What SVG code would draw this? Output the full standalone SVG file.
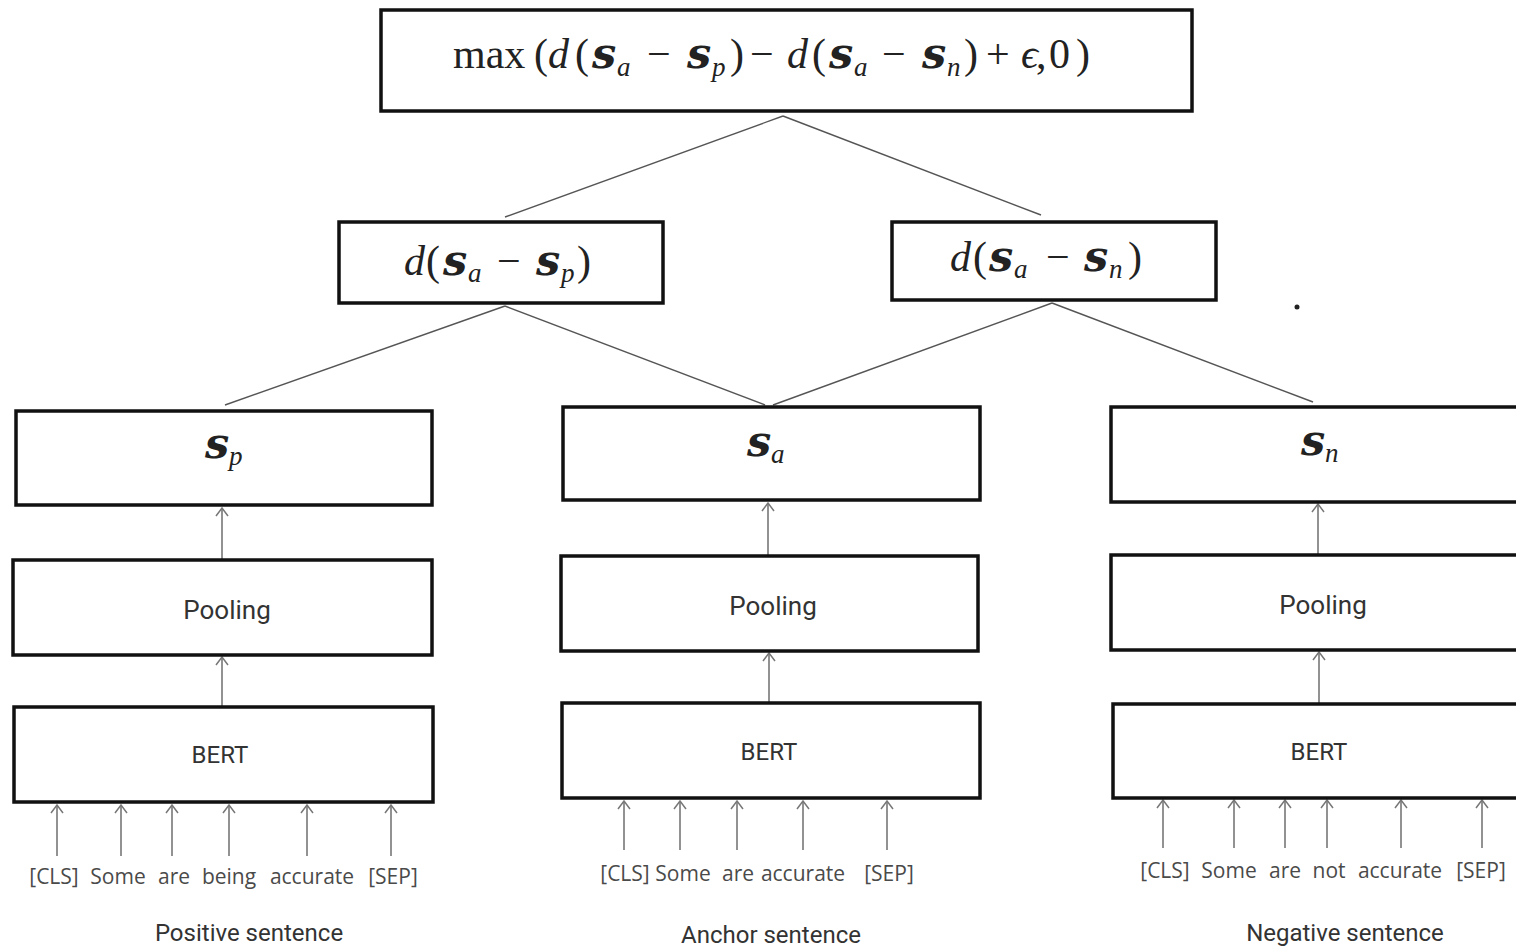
<svg xmlns="http://www.w3.org/2000/svg" width="1516" height="947" viewBox="0 0 1516 947">
  <style>
    .box { fill: #fff; stroke: #111; stroke-width: 3.5; }
    .link { stroke: #555; stroke-width: 1.4; fill: none; }
    .arr { stroke: #777; stroke-width: 1.6; fill: none; marker-end: url(#chev); }
    .math { font-family: "Liberation Serif", "DejaVu Serif", serif; font-size: 42px; fill: #222; }
    .it { font-style: italic; }
    .vec { font-family: "DejaVu Serif", "Liberation Serif", serif; font-style: italic; font-weight: bold; font-size: 43px; }
    .sub { font-style: italic; font-size: 27px; }
    .lbl { font-family: Roboto, "Liberation Sans", sans-serif; fill: #333; text-anchor: middle; }
    .tok { font-family: "Open Sans", "Liberation Sans", sans-serif; font-size: 21px; fill: #4a4a4a; text-anchor: middle; }
    .cap { font-family: Roboto, "Liberation Sans", sans-serif; font-size: 24px; fill: #333; text-anchor: middle; }
  </style>
  <defs>
    <marker id="chev" viewBox="0 0 10 14" refX="9" refY="7" markerWidth="10" markerHeight="14" markerUnits="userSpaceOnUse" orient="auto">
      <path d="M1,1 L9,7 L1,13" fill="none" stroke="#777" stroke-width="1.5"/>
    </marker>
  </defs>
  <rect width="1516" height="947" fill="#fff"/>

  <!-- tree connectors and input arrows -->
  <g id="connectors">
    <line class="link" x1="783" y1="116" x2="505" y2="217"/>
    <line class="link" x1="783" y1="116" x2="1041" y2="215"/>
    <line class="link" x1="505" y1="306" x2="225" y2="405"/>
    <line class="link" x1="505" y1="306" x2="765" y2="405"/>
    <line class="link" x1="1052" y1="303" x2="773" y2="405"/>
    <line class="link" x1="1052" y1="303" x2="1313" y2="402"/>
    <line class="arr" x1="222" y1="559" x2="222" y2="508"/>
    <line class="arr" x1="768" y1="555" x2="768" y2="503"/>
    <line class="arr" x1="1318" y1="554" x2="1318" y2="504"/>
    <line class="arr" x1="222" y1="706" x2="222" y2="657"/>
    <line class="arr" x1="769" y1="702" x2="769" y2="653"/>
    <line class="arr" x1="1319" y1="703" x2="1319" y2="652"/>
    <line class="arr" x1="57" y1="856" x2="57" y2="805"/>
    <line class="arr" x1="121" y1="856" x2="121" y2="805"/>
    <line class="arr" x1="172" y1="856" x2="172" y2="805"/>
    <line class="arr" x1="229" y1="856" x2="229" y2="805"/>
    <line class="arr" x1="307" y1="856" x2="307" y2="805"/>
    <line class="arr" x1="391" y1="856" x2="391" y2="805"/>
    <line class="arr" x1="624" y1="850" x2="624" y2="801"/>
    <line class="arr" x1="680" y1="850" x2="680" y2="801"/>
    <line class="arr" x1="737" y1="850" x2="737" y2="801"/>
    <line class="arr" x1="803" y1="850" x2="803" y2="801"/>
    <line class="arr" x1="887" y1="850" x2="887" y2="801"/>
    <line class="arr" x1="1163" y1="848" x2="1163" y2="800"/>
    <line class="arr" x1="1234" y1="848" x2="1234" y2="800"/>
    <line class="arr" x1="1285" y1="848" x2="1285" y2="800"/>
    <line class="arr" x1="1327" y1="848" x2="1327" y2="800"/>
    <line class="arr" x1="1401" y1="848" x2="1401" y2="800"/>
    <line class="arr" x1="1482" y1="848" x2="1482" y2="800"/>
  </g>

  <!-- triplet loss -->
  <g id="loss">
    <rect class="box" x="381" y="10" width="811" height="101"/>
    <text class="math" y="68"><tspan x="453">max</tspan><tspan x="534">(</tspan><tspan x="548" class="it">d</tspan><tspan x="575">(</tspan><tspan x="592" class="vec">s</tspan><tspan x="617" y="76" class="sub">a</tspan><tspan x="647" y="68">−</tspan><tspan x="687" class="vec">s</tspan><tspan x="712" y="76" class="sub">p</tspan><tspan x="730" y="68">)</tspan><tspan x="750">−</tspan><tspan x="787" class="it">d</tspan><tspan x="812">(</tspan><tspan x="829" class="vec">s</tspan><tspan x="854" y="76" class="sub">a</tspan><tspan x="882" y="68">−</tspan><tspan x="922" class="vec">s</tspan><tspan x="947" y="76" class="sub">n</tspan><tspan x="964" y="68">)</tspan><tspan x="986">+</tspan><tspan x="1021" class="it">ϵ</tspan><tspan x="1036">,</tspan><tspan x="1049">0</tspan><tspan x="1076">)</tspan></text>
  </g>

  <g id="dist-pos">
    <rect class="box" x="339" y="222" width="324" height="81"/>
    <text class="math" y="275"><tspan x="404" class="it">d</tspan><tspan x="426">(</tspan><tspan x="443" class="vec">s</tspan><tspan x="468" y="282" class="sub">a</tspan><tspan x="497" y="275">−</tspan><tspan x="536" class="vec">s</tspan><tspan x="561" y="282" class="sub">p</tspan><tspan x="577" y="275">)</tspan></text>
  </g>

  <g id="dist-neg">
    <rect class="box" x="892" y="222" width="324" height="78"/>
    <text class="math" y="271"><tspan x="950" class="it">d</tspan><tspan x="973">(</tspan><tspan x="989" class="vec">s</tspan><tspan x="1014" y="278" class="sub">a</tspan><tspan x="1046" y="271">−</tspan><tspan x="1084" class="vec">s</tspan><tspan x="1109" y="278" class="sub">n</tspan><tspan x="1128" y="271">)</tspan></text>
  </g>

  <circle cx="1297" cy="307" r="2.5" fill="#222"/>

  <!-- sentence embeddings -->
  <g id="emb-pos">
    <rect class="box" x="16" y="411" width="416" height="94"/>
    <text class="math" y="458"><tspan x="205" class="vec">s</tspan><tspan x="229" y="465" class="sub">p</tspan></text>
  </g>
  <g id="emb-anc">
    <rect class="box" x="563" y="407" width="417" height="93"/>
    <text class="math" y="456"><tspan x="747" class="vec">s</tspan><tspan x="771" y="463" class="sub">a</tspan></text>
  </g>
  <g id="emb-neg">
    <rect class="box" x="1111" y="407" width="410" height="95"/>
    <text class="math" y="455"><tspan x="1301" class="vec">s</tspan><tspan x="1325" y="462" class="sub">n</tspan></text>
  </g>

  <!-- pooling layers -->
  <g id="pool-pos">
    <rect class="box" x="13" y="560" width="419" height="95"/>
    <text class="lbl" x="227" y="619" font-size="26">Pooling</text>
  </g>
  <g id="pool-anc">
    <rect class="box" x="561" y="556" width="417" height="95"/>
    <text class="lbl" x="773" y="615" font-size="26">Pooling</text>
  </g>
  <g id="pool-neg">
    <rect class="box" x="1111" y="555" width="410" height="95"/>
    <text class="lbl" x="1323" y="614" font-size="26">Pooling</text>
  </g>

  <!-- encoders -->
  <g id="bert-pos">
    <rect class="box" x="14" y="707" width="419" height="95"/>
    <text class="lbl" x="220" y="763" font-size="24">BERT</text>
  </g>
  <g id="bert-anc">
    <rect class="box" x="562" y="703" width="418" height="95"/>
    <text class="lbl" x="769" y="760" font-size="24">BERT</text>
  </g>
  <g id="bert-neg">
    <rect class="box" x="1113" y="704" width="408" height="94"/>
    <text class="lbl" x="1319" y="760" font-size="24">BERT</text>
  </g>

  <!-- input tokens and sentence captions -->
  <g id="tokens-pos">
    <text class="tok" x="54" y="884">[CLS]</text>
    <text class="tok" x="118" y="884">Some</text>
    <text class="tok" x="174" y="884">are</text>
    <text class="tok" x="229" y="884">being</text>
    <text class="tok" x="312" y="884">accurate</text>
    <text class="tok" x="393" y="884">[SEP]</text>
    <text class="cap" x="249" y="941">Positive sentence</text>
  </g>
  <g id="tokens-anc">
    <text class="tok" x="625" y="881">[CLS]</text>
    <text class="tok" x="683" y="881">Some</text>
    <text class="tok" x="738" y="881">are</text>
    <text class="tok" x="803" y="881">accurate</text>
    <text class="tok" x="889" y="881">[SEP]</text>
    <text class="cap" x="771" y="943">Anchor sentence</text>
  </g>
  <g id="tokens-neg">
    <text class="tok" x="1165" y="878">[CLS]</text>
    <text class="tok" x="1229" y="878">Some</text>
    <text class="tok" x="1285" y="878">are</text>
    <text class="tok" x="1329" y="878">not</text>
    <text class="tok" x="1400" y="878">accurate</text>
    <text class="tok" x="1481" y="878">[SEP]</text>
    <text class="cap" x="1345" y="941">Negative sentence</text>
  </g>
</svg>
